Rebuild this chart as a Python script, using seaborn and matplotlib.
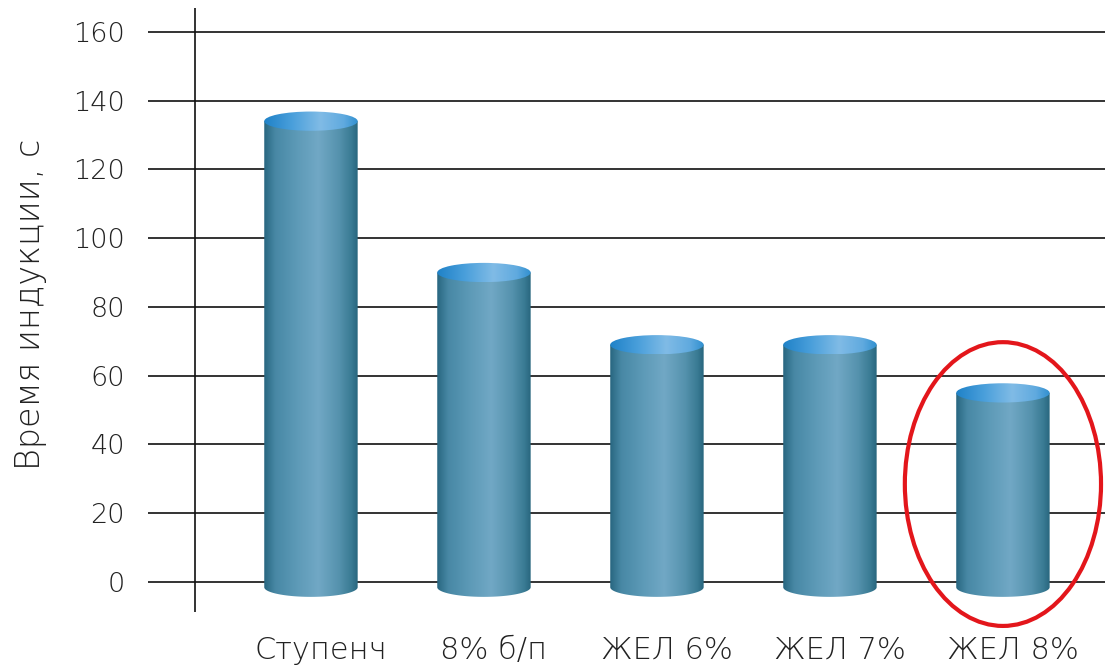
import numpy as np
import pandas as pd
import matplotlib
matplotlib.use("Agg")
import matplotlib.pyplot as plt
import matplotlib.transforms as mtransforms
import seaborn as sns
from matplotlib.patches import Ellipse, PathPatch
from matplotlib.path import Path
from matplotlib.colors import LinearSegmentedColormap

# Induction time per mix
categories = ["Ступенч", "8% б/п", "ЖЕЛ 6%", "ЖЕЛ 7%", "ЖЕЛ 8%"]
induction_time = [134, 90, 69, 69, 55]
y_ticks = [0, 20, 40, 60, 80, 100, 120, 140, 160]
y_label = "Время индукции, с"
highlighted = "ЖЕЛ 8%"

sns.set_theme(style="white")
plt.rcParams["font.family"] = ["DejaVu Sans"]
plt.rcParams["font.weight"] = 200
plt.rcParams["axes.labelweight"] = 200

TEXT = "#222222"
LINE = "#111111"

fig = plt.figure(figsize=(11.05, 6.71), dpi=100)
ax = fig.add_axes([148 / 1105, 59 / 671, (1105 - 148) / 1105, (612 - 8) / 671])

df = pd.DataFrame({"group": categories, "time": induction_time})
sns.barplot(data=df, x="group", y="time", order=categories, width=0.54,
            color="#5592ad", errorbar=None, ax=ax, zorder=2)

# cylinder shading
body_cmap = LinearSegmentedColormap.from_list(
    "body", [(0.0, "#286680"), (0.12, "#4888a5"), (0.35, "#5d9ab7"),
             (0.58, "#71a8c5"), (0.8, "#5592ad"), (0.93, "#3a7b94"),
             (1.0, "#28667e")])
cap_cmap = LinearSegmentedColormap.from_list(
    "cap", [(0.0, "#1f82c8"), (0.3, "#4a9fdb"), (0.6, "#80bbe6"),
            (0.85, "#60aadf"), (1.0, "#3190d0")])
grad = np.linspace(0, 1, 256).reshape(1, -1)

ry = 2.8      # half-height of the cylinder caps, data units
base = -1.5   # centre of the bottom cap

for patch, name, val in zip(ax.patches, categories, induction_time):
    x0 = patch.get_x()
    w = patch.get_width()
    x1 = x0 + w
    xc = x0 + w / 2
    top = patch.get_height()
    patch.set_visible(False)

    # body outline: straight sides plus rounded bottom
    t = np.linspace(np.pi, 2 * np.pi, 60)
    bx = xc + (w / 2) * np.cos(t)
    by = base + ry * np.sin(t)
    verts = [(x0, top)] + list(zip(bx, by)) + [(x1, top), (x0, top)]
    codes = [Path.MOVETO] + [Path.LINETO] * (len(verts) - 2) + [Path.CLOSEPOLY]
    body = PathPatch(Path(verts, codes), transform=ax.transData,
                     facecolor="none", edgecolor="none")
    ax.add_patch(body)
    im = ax.imshow(grad, cmap=body_cmap, aspect="auto", interpolation="bicubic",
                   extent=[x0, x1, base - ry, top], zorder=3)
    im.set_clip_path(body)

    cap = Ellipse((xc, top), w, 2 * ry, transform=ax.transData,
                  facecolor="none", edgecolor="none")
    ax.add_patch(cap)
    im2 = ax.imshow(grad, cmap=cap_cmap, aspect="auto", interpolation="bicubic",
                    extent=[x0, x1, top - ry, top + ry], zorder=4)
    im2.set_clip_path(cap)

    if name == highlighted:
        ax.add_patch(Ellipse((xc, top / 2 + 1), 2.1 * w, 1.5 * top,
                             facecolor="none", edgecolor="#e3161b",
                             linewidth=3.0, zorder=5, clip_on=False))

ax.axvline(-0.67, color=LINE, linewidth=1.2, zorder=1)

ax.set_xlim(-0.942, 4.59)
ax.set_ylim(-8.7, 166.9)
ax.set_yticks(y_ticks)
ax.yaxis.grid(True, color=LINE, linewidth=1.2)
ax.xaxis.grid(False)
ax.set_axisbelow(True)
for s in ax.spines.values():
    s.set_visible(False)

ax.tick_params(axis="y", length=0, pad=16.5, labelsize=19.5, labelcolor=TEXT)
ax.tick_params(axis="x", length=0, pad=17, labelsize=22, labelcolor=TEXT)
# nudge category labels slightly to the right
shift = mtransforms.ScaledTranslation(10 / 100, 0, fig.dpi_scale_trans)
for lbl in ax.get_xticklabels():
    lbl.set_transform(lbl.get_transform() + shift)
ax.set_xlabel("")
ax.set_ylabel(y_label, fontsize=24, color=TEXT, fontweight=200)
ax.yaxis.set_label_coords(-0.106, 0.51)

fig.savefig("out.png", dpi=100)
